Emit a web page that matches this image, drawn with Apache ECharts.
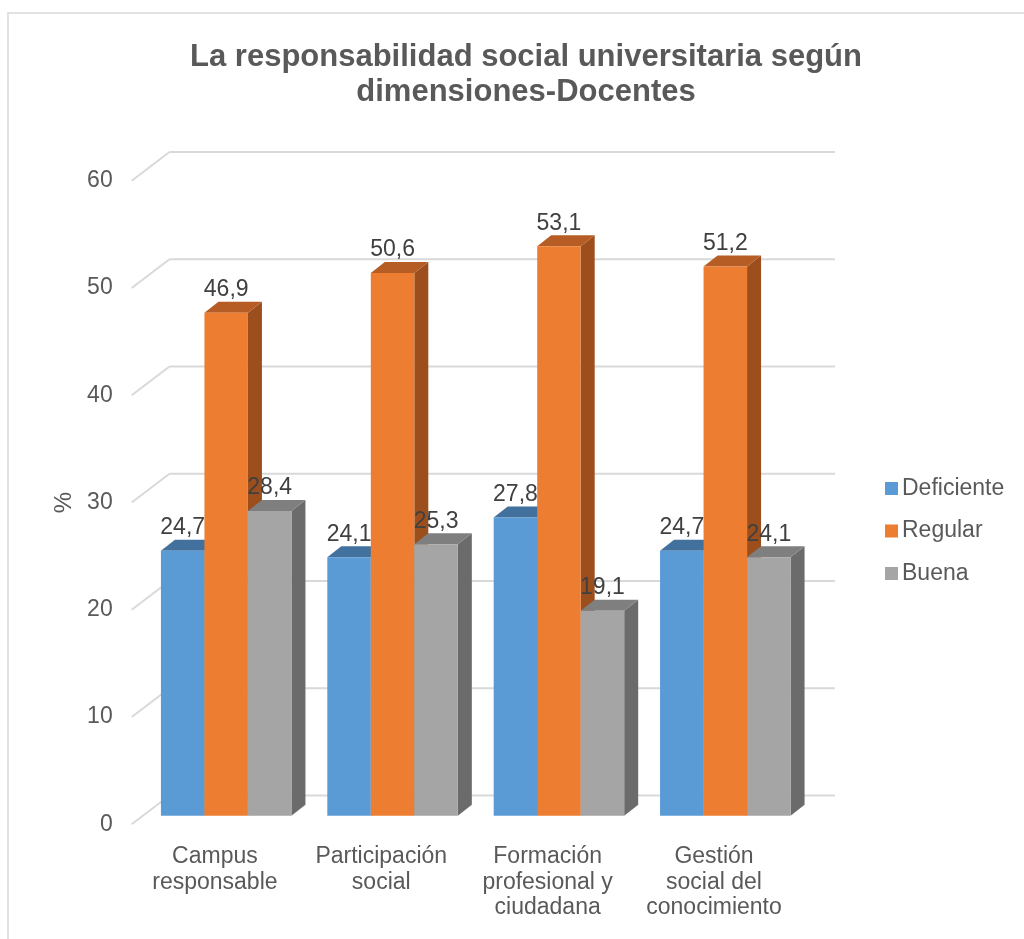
<!DOCTYPE html>
<html>
<head>
<meta charset="utf-8">
<title>La responsabilidad social universitaria según dimensiones-Docentes</title>
<script src="https://cdn.jsdelivr.net/npm/echarts@6/dist/echarts.min.js"></script>
<style>
  html, body { margin: 0; padding: 0; background: #ffffff; }
  #chart { width: 1024px; height: 939px; }
</style>
</head>
<body>
<div id="chart"></div>
<script>
// ---- data ----
const categories = ['Campus\nresponsable', 'Participación\nsocial', 'Formación\nprofesional y\nciudadana', 'Gestión\nsocial del\nconocimiento'];
const seriesNames = ['Deficiente', 'Regular', 'Buena'];
const deficiente = [24.7, 24.1, 27.8, 24.7];
const regular = [46.9, 50.6, 53.1, 51.2];
const buena = [28.4, 25.3, 19.1, 24.1];
const yTicks = [0, 10, 20, 30, 40, 50, 60];

// ---- look ----
const FONT = "'Liberation Sans', Arial, sans-serif";
const faceColors = [
  { front: '#5b9bd5', top: '#41719c', side: '#3b6790' },
  { front: '#ed7d31', top: '#b55d24', side: '#9c4f1d' },
  { front: '#a5a5a5', top: '#7f7f7f', side: '#6b6b6b' }
];
// oblique projection offsets (pixels) relative to the plane of the bar fronts
const DEPTH = { dx: 14, dy: -11 };        // bar thickness
const BACK = { dx: 26.5, dy: -20.2 };     // back wall
const FRONT = { dx: -11.3, dy: 8.6 };     // front edge of the floor
const BAR_FRACTION = 0.2615;              // one bar's width as a share of a category band

const fmt = v => v.toFixed(1).replace('.', ',');

function barGeometry(api, seriesIdx) {
  const cat = api.value(0);
  const val = api.value(1);
  const base = api.coord([cat, 0]);
  const top = api.coord([cat, val]);
  const band = api.size([1, 0])[0];
  const w = band * BAR_FRACTION;
  const x0 = base[0] - 1.5 * w + seriesIdx * w;
  return { x0, x1: x0 + w, yb: base[1], yt: top[1], val };
}

function makeBarSeries(idx, values) {
  const c = faceColors[idx];
  return {
    name: seriesNames[idx],
    type: 'custom',
    xAxisIndex: 0, yAxisIndex: 0,
    z: 3,
    itemStyle: { color: c.front },
    data: values.map((v, i) => [i, v]),
    renderItem: (params, api) => {
      const g = barGeometry(api, idx);
      const { x0, x1, yb, yt } = g;
      const dx = DEPTH.dx, dy = DEPTH.dy;
      return {
        type: 'group',
        children: [
          { type: 'polygon', shape: { points: [[x1, yb], [x1 + dx, yb + dy], [x1 + dx, yt + dy], [x1, yt]] },
            style: { fill: c.side } },
          { type: 'polygon', shape: { points: [[x0, yt], [x1, yt], [x1 + dx, yt + dy], [x0 + dx, yt + dy]] },
            style: { fill: c.top } },
          { type: 'rect', shape: { x: x0, y: yt, width: x1 - x0, height: yb - yt },
            style: { fill: c.front } }
        ]
      };
    }
  };
}

function makeLabelSeries(idx, values) {
  return {
    type: 'custom',
    xAxisIndex: 0, yAxisIndex: 0,
    z: 5,
    silent: true,
    data: values.map((v, i) => [i, v]),
    renderItem: (params, api) => {
      const g = barGeometry(api, idx);
      return {
        type: 'text',
        style: {
          text: fmt(g.val),
          x: (g.x0 + g.x1) / 2,
          y: g.yt - 23,
          textAlign: 'center',
          textVerticalAlign: 'middle',
          font: '23px ' + FONT,
          fill: '#404040'
        }
      };
    }
  };
}

// back-wall gridlines plus the diagonals of the left wall
const gridSeries = {
  type: 'custom',
  xAxisIndex: 0, yAxisIndex: 0,
  z: 1,
  silent: true,
  data: yTicks.map(t => [0, t]),
  renderItem: (params, api) => {
    const cs = params.coordSys;
    const y = api.coord([0, api.value(1)])[1];
    const bx0 = cs.x + BACK.dx, bx1 = cs.x + cs.width + BACK.dx, by = y + BACK.dy;
    const lineStyle = { stroke: '#d9d9d9', lineWidth: 2 };
    return {
      type: 'group',
      children: [
        { type: 'line', shape: { x1: bx0, y1: by, x2: bx1, y2: by }, style: lineStyle },
        { type: 'line', shape: { x1: cs.x + FRONT.dx, y1: y + FRONT.dy, x2: bx0, y2: by }, style: lineStyle }
      ]
    };
  }
};

const chart = echarts.init(document.getElementById('chart'), null, { renderer: 'canvas' });

const barPlane = { left: 143, top: 172.2, width: 665.5, height: 643.5 };
const frontPlane = {
  left: barPlane.left + FRONT.dx,
  top: barPlane.top + FRONT.dy,
  width: barPlane.width,
  height: barPlane.height
};

chart.setOption({
  backgroundColor: '#ffffff',
  animation: false,
  textStyle: { fontFamily: FONT },
  title: {
    text: 'La responsabilidad social universitaria según\ndimensiones-Docentes',
    left: 521, top: 35, textAlign: 'center',
    textStyle: { fontFamily: FONT, fontSize: 31, fontWeight: 'bold', color: '#595959', lineHeight: 35 }
  },
  legend: {
    orient: 'vertical',
    left: 880, top: 472,
    itemWidth: 13, itemHeight: 13, itemGap: 19.5,
    icon: 'rect',
    data: seriesNames.map((n, i) => ({ name: n, itemStyle: { color: faceColors[i].front } })),
    textStyle: { fontFamily: FONT, fontSize: 23, color: '#595959', padding: [0, 0, 0, -1] }
  },
  graphic: [{
    type: 'rect', silent: true, z: -10,
    shape: { x: 8, y: 13, width: 1100, height: 1000 },
    style: { fill: 'none', stroke: '#d9d9d9', lineWidth: 1.5 }
  }],
  grid: [
    Object.assign({}, barPlane),
    Object.assign({}, frontPlane)
  ],
  xAxis: [
    { type: 'category', gridIndex: 0, data: categories, show: false },
    {
      type: 'category', gridIndex: 1, data: categories,
      axisLine: { show: false }, axisTick: { show: false },
      axisLabel: { interval: 0, margin: 20, fontFamily: FONT, fontSize: 23, color: '#595959', lineHeight: 25.5 }
    }
  ],
  yAxis: [
    { type: 'value', gridIndex: 0, min: 0, max: 60, interval: 10, show: false },
    {
      type: 'value', gridIndex: 1, min: 0, max: 60, interval: 10,
      name: '%', nameLocation: 'middle', nameRotate: 90, nameGap: 55,
      nameTextStyle: { fontFamily: FONT, fontSize: 24, color: '#595959' },
      axisLine: { show: false }, axisTick: { show: false },
      splitLine: { show: false },
      axisLabel: { margin: 19, fontFamily: FONT, fontSize: 23, color: '#595959' }
    }
  ],
  series: [
    gridSeries,
    makeBarSeries(0, deficiente),
    makeBarSeries(1, regular),
    makeBarSeries(2, buena),
    makeLabelSeries(0, deficiente),
    makeLabelSeries(1, regular),
    makeLabelSeries(2, buena)
  ]
});
</script>
</body>
</html>
